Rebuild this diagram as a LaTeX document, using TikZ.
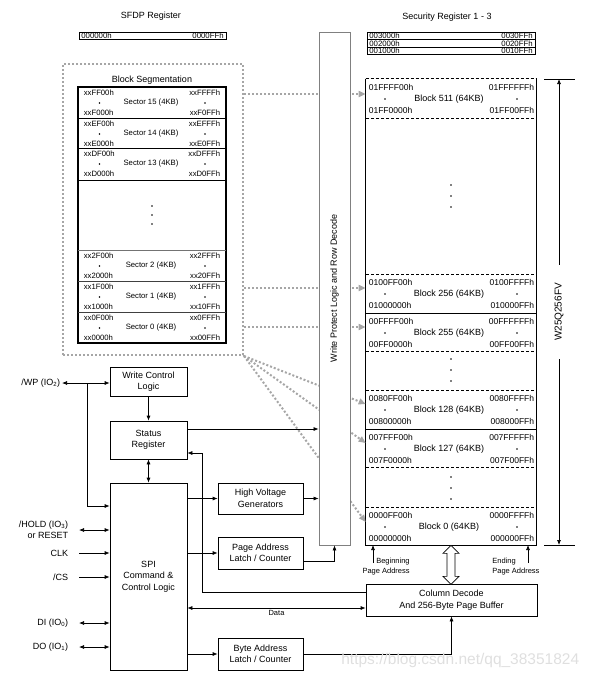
\documentclass[tikz,border=0pt]{standalone}
\usepackage{fontspec}
\setmainfont{Liberation Sans}
\usetikzlibrary{arrows.meta, positioning, calc}

\begin{document}
\begin{tikzpicture}[x=1pt, y=-1pt, line width=0.7pt, >={Latex[length=5pt,width=4pt]},
  blk/.style={draw, align=center, font=\fontsize{9}{11.5}\selectfont, inner sep=0pt},
  lbl/.style={font=\fontsize{9}{11}\selectfont, inner sep=0.5pt, align=center},
  addr/.style={font=\fontsize{8.5}{10}\selectfont, inner sep=0.5pt},
  sect/.style={font=\fontsize{7.7}{9}\selectfont, inner sep=0.5pt},
  tiny/.style={font=\fontsize{7.8}{8}\selectfont, inner sep=0pt},
  seg/.style={draw=gray!70, line width=2pt, dash pattern=on 2pt off 2pt},
  segarrow/.style={seg, -{Triangle[length=7pt,width=6pt]}},
  sep/.style={line width=0.6pt, dash pattern=on 3pt off 2pt},
]
\useasboundingbox (0,0) rectangle (594,678);

% Registers on top
\node[lbl] (sfdp-t) at (151,16) {SFDP Register};
\draw (79,32) rectangle (226,39);
\node[tiny, anchor=west] (sfdp-l) at (81,35.5) {000000h};
\node[tiny, anchor=east] (sfdp-r) at (224,35.5) {0000FFh};

\node[lbl] (sec-t) at (447,17) {Security Register 1 - 3};
\draw (367,32) rectangle (535,54);
\draw[line width=0.5pt] (367,39.5) -- (535,39.5) (367,47) -- (535,47);
\foreach \yy/\lo/\hi [count=\i] in {36/003000h/0030FFh, 43.5/002000h/0020FFh, 50.5/001000h/0010FFh} {
  \node[tiny, anchor=west] (sec\i-l) at (369,\yy) {\lo};
  \node[tiny, anchor=east] (sec\i-r) at (533,\yy) {\hi};
}

% Block segmentation
\node[seg, minimum width=180pt, minimum height=291pt, inner sep=0pt] (segbox) at (153,209.5) {};
\node[lbl] (seg-t) at (152,80) {Block Segmentation};
\draw[line width=1.2pt] (78,87) rectangle (226,343);
\draw[line width=1pt] (78,118) -- (226,118) (78,148) -- (226,148) (78,180) -- (226,180);
\draw[line width=0.6pt, black!55] (78,250) -- (226,250);
\draw[line width=0.8pt, black!75] (78,281) -- (226,281) (78,312) -- (226,312);
\foreach \yy/\nn/\topL/\topR/\botL/\botR in {
  87/15/xxFF00h/xxFFFFh/xxF000h/xxF0FFh,
  118/14/xxEF00h/xxEFFFh/xxE000h/xxE0FFh,
  148/13/xxDF00h/xxDFFFh/xxD000h/xxD0FFh,
  250/2/xx2F00h/xx2FFFh/xx2000h/xx20FFh,
  281/1/xx1F00h/xx1FFFh/xx1000h/xx10FFh,
  312/0/xx0F00h/xx0FFFh/xx0000h/xx00FFh} {
  \node[sect, anchor=west] (s\nn-tl) at (83,\yy+6) {\topL};
  \node[sect, anchor=east] (s\nn-tr) at (221,\yy+6) {\topR};
  \node[sect] (s\nn-m) at (151,\yy+16) {Sector \nn{} (4KB)};
  \node[sect, anchor=west] (s\nn-bl) at (83,\yy+25.5) {\botL};
  \node[sect, anchor=east] (s\nn-br) at (221,\yy+25.5) {\botR};
  \fill (99.5,\yy+16) circle (0.9pt) (205,\yy+16) circle (0.9pt);
}
\foreach \yy in {206,215,224} \fill (152,\yy) circle (0.9pt);

% Memory array
\node[minimum width=170pt, minimum height=466pt, inner sep=0pt] (arr) at (451,312) {};
\draw[line width=0.9pt] (arr.north west) -- (arr.south west) -- (arr.south east) -- (arr.north east);
\draw[sep, line width=0.8pt] (arr.north west) -- (arr.north east);
\foreach \yy in {118,274,351,390,467,507} \draw[sep] (366,\yy) -- (536,\yy);
\draw (366,313) -- (536,313) (366,429) -- (536,429);
\foreach \yy/\nn/\topL/\topR/\botL/\botR in {
  79/511/01FFFF00h/01FFFFFFh/01FF0000h/01FF00FFh,
  274/256/0100FF00h/0100FFFFh/01000000h/010000FFh,
  313/255/00FFFF00h/00FFFFFFh/00FF0000h/00FF00FFh,
  390/128/0080FF00h/0080FFFFh/00800000h/008000FFh,
  429/127/007FFF00h/007FFFFFh/007F0000h/007F00FFh,
  507/0/0000FF00h/0000FFFFh/00000000h/000000FFh} {
  \node[addr, anchor=west] (b\nn-tl) at (368,\yy+8.5) {\topL};
  \node[addr, anchor=east] (b\nn-tr) at (535,\yy+8.5) {\topR};
  \node[lbl] (b\nn-m) at (449,\yy+20) {Block \nn{} (64KB)};
  \node[addr, anchor=west] (b\nn-bl) at (368,\yy+31) {\botL};
  \node[addr, anchor=east] (b\nn-br) at (535,\yy+31) {\botR};
  \fill (385,\yy+20) circle (0.9pt) (517,\yy+20) circle (0.9pt);
}
\foreach \yy in {185,196,207,359,370,381,477,488,499} \fill (451,\yy) circle (0.9pt);

% Segment pointers (behind the decode column)
\draw[segarrow] (segbox.east |- 0,94) -- (arr.west |- 0,94);
\draw[segarrow] (segbox.east |- 0,288) -- (arr.west |- 0,288);
\draw[segarrow] (segbox.east |- 0,327) -- (arr.west |- 0,327);
\draw[segarrow] (segbox.south east) -- (arr.west |- 0,404);
\draw[segarrow] (segbox.south east) -- (arr.west |- 0,443);
\draw[segarrow] (segbox.south east) -- (arr.west |- 0,522);

% Write protect / row decode column
\node[draw=gray, line width=0.8pt, fill=white, minimum width=31pt, minimum height=513pt, inner sep=0pt] (wpl) at (334.5,288.5) {};
\node[lbl, rotate=90] (wpl-t) at (wpl.center) {Write Protect Logic and Row Decode};

% Chip size marker
\coordinate (dimtop) at (559,79);
\coordinate (dimbot) at (559,545);
\draw (544,79) -- (575,79) (544,545) -- (575,545);
\node[rotate=90, font=\fontsize{10}{12}\selectfont, inner xsep=18pt, inner ysep=0pt] (chip) at (559,312) {W25Q256FV};
\draw[->] (chip.east) -- (dimtop);
\draw[->] (chip.west) -- (dimbot);

% Page address marks
\node[font=\fontsize{7.5}{10}\selectfont, align=right, anchor=east, inner sep=0pt] (bpa) at (410,566.5) {Beginning\\Page Address};
\node[font=\fontsize{7.5}{10}\selectfont, align=left, anchor=west, inner sep=0pt] (epa) at (492,566.5) {Ending\\Page Address};
\coordinate (bpa-tip) at (373,545);
\coordinate (epa-tip) at (528,545);
\draw[->] (bpa-tip |- 0,563) -- (bpa-tip);
\draw[->] (epa-tip |- 0,563) -- (epa-tip);

% Logic blocks
\node[blk, minimum width=77pt, minimum height=29pt] (wcl) at (148.5,381.5) {Write Control\\Logic};
\node[blk, minimum width=77pt, minimum height=38pt] (sreg) at (148.5,440) {Status\\Register};
\node[blk, minimum width=77pt, minimum height=187pt] (spi) at (148.5,576.5) {SPI\\Command \&\\Control Logic};
\node[blk, minimum width=85pt, minimum height=31pt] (hvg) at (260.5,498.5) {High Voltage\\Generators};
\node[blk, minimum width=85pt, minimum height=32pt] (pal) at (260.5,553) {Page Address\\Latch / Counter};
\node[blk, minimum width=85pt, minimum height=32pt] (bal) at (260.5,654) {Byte Address\\Latch / Counter};
\node[blk, minimum width=171pt, minimum height=32pt] (coldec) at (451.5,600) {Column Decode\\And 256-Byte Page Buffer};

% Hollow bus arrow
\draw[fill=white] (arr.south) -- ++(8,8) -- ++(-4,0) -- ++(0,23) -- ++(4,0) -- ++(-8,8)
  -- ++(-8,-8) -- ++(4,0) -- ++(0,-23) -- ++(-4,0) -- cycle;

% Pins
\node[lbl, anchor=east] (wp) at (61,383) {/WP (IO\textsubscript{2})};
\node[lbl, anchor=east, align=right] (hold) at (69,530) {/HOLD (IO\textsubscript{3})\\or RESET};
\node[lbl, anchor=east] (clk) at (69,553) {CLK};
\node[lbl, anchor=east] (cs) at (69,577) {/CS};
\node[lbl, anchor=east] (di) at (69,623) {DI (IO\textsubscript{0})};
\node[lbl, anchor=east] (do) at (69,647) {DO (IO\textsubscript{1})};
\coordinate (wpj) at (87,383);
\draw[<->] ([xshift=1pt]wp.east) -- (wp.east -| wcl.west);
\draw[->] (wpj) |- (spi.west |- 0,506);
\draw[<->] ([xshift=10pt]hold.east) -- (spi.west |- hold.east);
\draw[->] ([xshift=10pt]clk.east) -- (spi.west |- clk.east);
\draw[->] ([xshift=10pt]cs.east) -- (spi.west |- cs.east);
\draw[<->] ([xshift=10pt]di.east) -- (spi.west |- di.east);
\draw[<->] ([xshift=10pt]do.east) -- (spi.west |- do.east);

% Connections
\draw[->] (wcl) -- (sreg);
\draw[<->] (sreg) -- (spi);
\draw[->] (sreg.east |- 0,429) -- (wpl.west |- 0,429);
\draw[->] (coldec.west |- 0,592) -| (202,453) -- (sreg.east |- 0,453);
\draw[->] (spi.east |- hvg) -- (hvg);
\draw[->] (hvg) -- (hvg -| wpl.west);
\draw[->] (spi.east |- pal) -- (pal);
\draw[->] (pal.east |- 0,561) -| (wpl.south);
\draw[->] (spi.east |- bal) -- (bal);
\draw[->] (bal) -| (coldec);
\draw[<->] (spi.east |- 0,608) -- (coldec.west |- 0,608)
  node[midway, below=2pt, font=\fontsize{7.5}{9}\selectfont, inner sep=0pt] (data) {Data};

\node[font=\fontsize{15.5}{18}\selectfont, text=gray!25, anchor=west, inner sep=0pt] (wm) at (341,660) {https://blog.csdn.net/qq\_38351824};
\end{tikzpicture}
\end{document}
